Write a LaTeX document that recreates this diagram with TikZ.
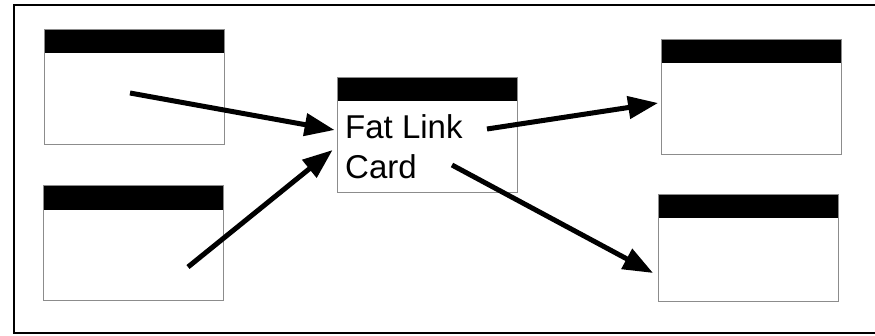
\documentclass[tikz,border=0pt]{standalone}
\usepackage{fontspec}
\setmainfont{Liberation Sans}
\usetikzlibrary{calc,positioning,arrows.meta}

\tikzset{
  card/.style={draw=black!45, line width=0.8pt, minimum width=180pt, minimum height=115pt, inner sep=0pt,
    path picture={\fill (path picture bounding box.north west) rectangle ([yshift=-24pt]path picture bounding box.north east);}},
  link/.style={line width=5pt, -{Triangle[length=30pt,width=22pt]}},
  cardtext/.style={font=\fontsize{33}{40}\selectfont, inner sep=0pt}
}

\begin{document}
\begin{tikzpicture}[x=1pt,y=-1pt]
  \useasboundingbox (0,0) rectangle (875,335);
  \draw [line width=2.5pt] (875,5) -- (14,5) -- (14,333) -- (875,333);

  % cards
  \node [card] (in1) at (134.5,86.5) {};
  \node [card] (in2) at (133.5,243) {};
  \node [card] (fat) at (427,134.5) {};
  \node [card] (out1) at (751.5,96.5) {};
  \node [card, minimum height=107pt] (out2) at (748.5,247.5) {};

  \node [cardtext, anchor=base west] (fatlink) at (345,138) {Fat Link};
  \node [cardtext, anchor=base west] (cardlbl) at (345,178) {Card};

  % links
  \coordinate (s1) at (130,93);
  \coordinate (s2) at (188,267);
  \coordinate (s3) at (487,129);
  \coordinate (s4) at (452,165);
  \draw [link] (s1) -- ([shift={(-2,-4.5)}]fat.west);
  \draw [link] (s2) -- ([shift={(-4,15.5)}]fat.west);
  \draw [link] (s3) -- ([shift={(-3,6.5)}]out1.west);
  \draw [link] (s4) -- ([shift={(-5,25.5)}]out2.west);
\end{tikzpicture}
\end{document}
